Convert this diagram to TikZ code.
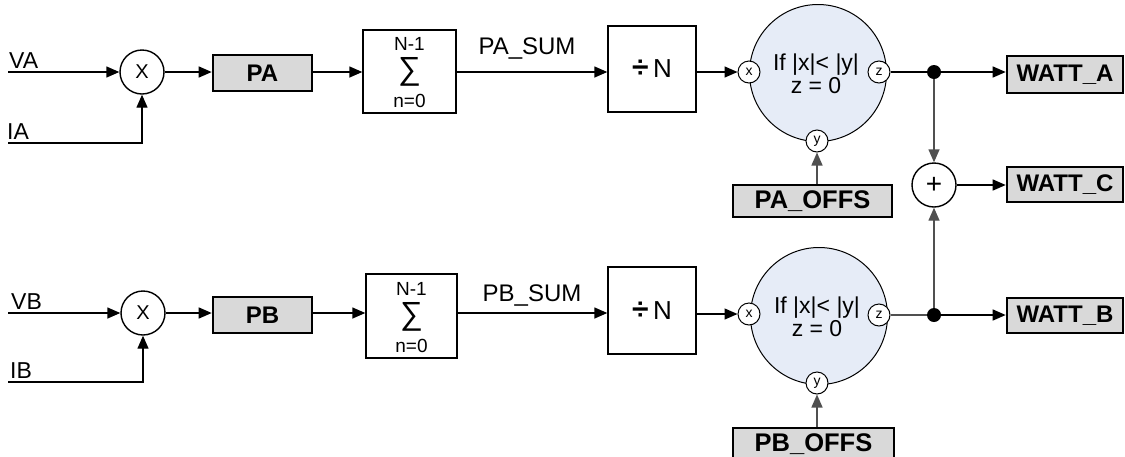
\documentclass[tikz,border=0pt]{standalone}
\usepackage{fontspec}
\setmainfont{Liberation Sans}
\usetikzlibrary{arrows.meta}
\definecolor{boxgray}{HTML}{D9D9D9}
\definecolor{bluefill}{HTML}{E6ECF7}
\definecolor{linegray}{HTML}{505050}
\begin{document}
\begin{tikzpicture}[x=1pt,y=-1pt,
  line/.style={line width=1.4pt},
  arr/.style={line, -{Triangle[length=13pt,width=11pt]}},
  sig/.style={font=\fontsize{23}{26}\selectfont, inner sep=0pt},
  mult/.style={circle, draw, line width=1.4pt, minimum size=44pt, inner sep=0pt, fill=white, font=\fontsize{20}{22}\selectfont},
  graybox/.style={draw, line width=2.6pt, fill=boxgray, inner sep=0pt, font=\fontsize{24}{26}\selectfont\bfseries},
  offbox/.style={draw, line width=1.3pt, fill=boxgray, inner sep=0pt, font=\fontsize{25.5}{26}\selectfont\bfseries},
  plainbox/.style={draw, line width=1.4pt, inner sep=0pt, font=\fontsize{26}{28}\selectfont},
  bigc/.style={circle, draw, line width=1pt, fill=bluefill, minimum size=137pt, inner sep=0pt},
  port/.style={circle, draw, line width=1pt, fill=white, minimum size=22pt, inner sep=0pt, font=\fontsize{14}{15}\selectfont},
  jdot/.style={circle, fill=black, minimum size=14pt, inner sep=0pt},
  small/.style={font=\fontsize{19}{20}\selectfont, inner sep=0pt},
  cond/.style={align=center, font=\fontsize{23}{23}\selectfont, inner sep=0pt},
  lbl/.style={font=\fontsize{24}{26}\selectfont, inner sep=0pt}
]
\useasboundingbox (0,0) rectangle (1125,456);

% ---------------- top row ----------------
\coordinate (va) at (8,72);
\coordinate (ia) at (8,143);
\node[sig, anchor=base west] (lva) at (9,68) {VA};
\node[sig, anchor=base west] (lia) at (7,139) {IA};
\node[mult] (m1) at (142,72) {X};
\node[graybox, minimum width=99pt, minimum height=36pt] (pa) at (262.5,73) {PA};
\node[plainbox, minimum width=93pt, minimum height=83pt] (s1) at (409.5,71.5) {};
\node[small, anchor=center] (s1a) at (409.5,44) {N-1};
\node[font=\fontsize{32}{32}\selectfont, inner sep=0pt] (s1b) at (409.5,72) {∑};
\node[small, anchor=center] (s1c) at (409.5,101) {n=0};
\node[plainbox, minimum width=88pt, minimum height=86pt] (d1) at (652,69) {{\fontsize{30}{30}\selectfont\bfseries ÷}\,N};
\node[lbl, anchor=base] (l1) at (527,54) {PA\_SUM};
\node[bigc] (c1) at (818,73) {};
\node[cond] (t1) at (816,74) {If |x|< |y|\\z = 0};
\node[port] (x1) at (749,72) {x};
\node[port] (z1) at (879,72) {z};
\node[port] (y1) at (817,141) {y};
\node[jdot] (j1) at (934,72) {};
\node[graybox, minimum width=116pt, minimum height=37pt] (wa) at (1065,74.5) {WATT\_A};
\node[mult, font=\fontsize{28}{28}\selectfont] (p) at (934,185) {+};
\node[graybox, minimum width=116pt, minimum height=35pt] (wc) at (1065,184.5) {WATT\_C};
\node[offbox, minimum width=159pt, minimum height=32pt] (o1) at (812.5,201) {PA\_OFFS};

\draw[arr] (va) -- (m1.west);
\draw[arr] (ia) -| (m1.south);
\draw[arr] (m1.east) -- (m1.east -| pa.west);
\draw[arr] (pa.east |- m1) -- (s1.west |- m1);
\draw[arr] (s1.east |- m1) -- (d1.west |- m1);
\draw[arr] (d1.east |- x1) -- (x1.west);
\draw[line] (z1.east) -- (j1);
\draw[arr] (j1) -- (j1 -| wa.west);
\draw[arr, draw=linegray] (j1) -- (p.north);
\draw[arr] (p.east) -- (p.east -| wc.west);
\draw[arr, draw=linegray] (o1.north -| y1) -- (y1.south);

% ---------------- bottom row ----------------
\coordinate (vb) at (8,313);
\coordinate (ib) at (8,382);
\node[sig, anchor=base west] (lvb) at (11,309) {VB};
\node[sig, anchor=base west] (lib) at (10,378) {IB};
\node[mult] (m2) at (143,313) {X};
\node[graybox, minimum width=99pt, minimum height=36pt] (pb) at (262.5,315) {PB};
\node[plainbox, minimum width=91pt, minimum height=84pt] (s2) at (411.5,316) {};
\node[small, anchor=center] (s2a) at (411.5,289) {N-1};
\node[font=\fontsize{32}{32}\selectfont, inner sep=0pt] (s2b) at (411.5,317) {∑};
\node[small, anchor=center] (s2c) at (411.5,346) {n=0};
\node[plainbox, minimum width=88pt, minimum height=87pt] (d2) at (652,310.5) {{\fontsize{30}{30}\selectfont\bfseries ÷}\,N};
\node[lbl, anchor=base] (l2) at (532,301) {PB\_SUM};
\node[bigc] (c2) at (819,316) {};
\node[cond] (t2) at (817,317) {If |x|< |y|\\z = 0};
\node[port] (x2) at (749,314) {x};
\node[port] (z2) at (879,315) {z};
\node[port] (y2) at (817,383) {y};
\node[jdot] (j2) at (934,315) {};
\node[graybox, minimum width=116pt, minimum height=35pt] (wb) at (1065,315.5) {WATT\_B};
\node[offbox, minimum width=161pt, minimum height=32pt] (o2) at (813.5,444) {PB\_OFFS};

\draw[arr] (vb) -- (m2.west);
\draw[arr] (ib) -| (m2.south);
\draw[arr] (m2.east) -- (m2.east -| pb.west);
\draw[arr] (pb.east |- m2) -- (s2.west |- m2);
\draw[arr] (s2.east |- m2) -- (d2.west |- m2);
\draw[arr] (d2.east |- x2) -- (x2.west);
\draw[line, draw=linegray] (z2.east) -- (j2);
\draw[arr] (j2) -- (j2 -| wb.west);
\draw[arr, draw=linegray] (j2) -- (p.south);
\draw[arr, draw=linegray] (o2.north -| y2) -- (y2.south);
\end{tikzpicture}
\end{document}
